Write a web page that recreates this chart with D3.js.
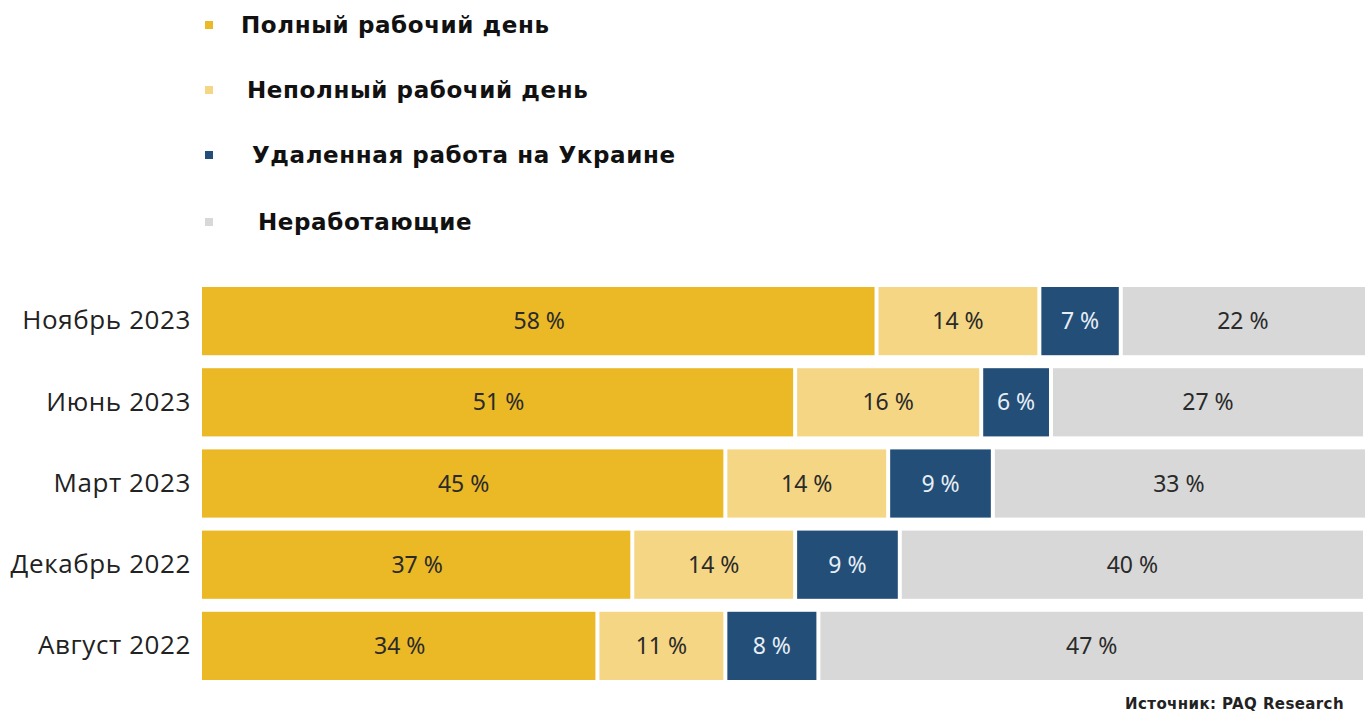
<!DOCTYPE html>
<html>
<head>
<meta charset="utf-8">
<script src="https://cdn.jsdelivr.net/npm/d3@7"></script>
<style>
  body { margin: 0; background: #fff; }
  svg { display: block; }
</style>
</head>
<body>
<svg width="1365" height="713"></svg>
<script>
// data
let periods = ["Ноябрь 2023", "Июнь 2023", "Март 2023", "Декабрь 2022", "Август 2022"];
let seriesNames = ["Полный рабочий день", "Неполный рабочий день", "Удаленная работа на Украине", "Неработающие"];
let fullTime = [58, 51, 45, 37, 34];
let partTime = [14, 16, 14, 14, 11];
let remote = [7, 6, 9, 9, 8];
let notWorking = [22, 27, 33, 40, 47];
let colors = ["#EBB826", "#F5D684", "#224E78", "#D8D8D8"];
let textColors = ["#2a2a2a", "#2a2a2a", "#e8eef5", "#2a2a2a"];
let source = "Источник: PAQ Research";

let margin = ({top: 287, right: 0, bottom: 33, left: 202});
let width = 1365, height = 713;

let table = periods.map((p, i) => ({
    period: p,
    values: [fullTime[i], partTime[i], remote[i], notWorking[i]]
}));

let x = d3.scaleLinear([0, 100], [margin.left, width - margin.right]);
let y = d3.scaleBand(periods, [margin.top, height - margin.bottom]).paddingInner(0.16).paddingOuter(0.0);

let svg = d3.select("svg").attr("viewBox", [0, 0, width, height]);

// stacked segments
let segs = table.flatMap(row => {
    let acc = 0;
    return row.values.map((v, k) => {
        let s = {period: row.period, k, v, x0: acc, x1: acc + v};
        acc += v;
        return s;
    });
});

const gap = 4;
svg.append("g")
    .selectAll("rect")
    .data(segs)
    .join("rect")
    .attr("x", d => x(d.x0) + (d.k > 0 ? gap / 2 : 0))
    .attr("y", d => y(d.period))
    .attr("width", d => x(d.x1) - x(d.x0) - (d.k > 0 ? gap : gap / 2))
    .attr("height", y.bandwidth())
    .attr("fill", d => colors[d.k]);

svg.append("g")
    .attr("font-family", "'Noto Sans', sans-serif")
    .attr("font-size", 23)
    .attr("text-anchor", "middle")
    .selectAll("text")
    .data(segs)
    .join("text")
    .attr("x", d => (x(d.x0) + Math.min(x(d.x1), width)) / 2)
    .attr("y", d => y(d.period) + y.bandwidth() / 2)
    .attr("dy", "0.35em")
    .attr("fill", d => textColors[d.k])
    .text(d => d.v + " %");

// category labels
svg.append("g")
    .attr("font-family", "'Open Sans', sans-serif")
    .attr("font-size", 26)
    .attr("letter-spacing", 0.6)
    .attr("text-anchor", "end")
    .attr("fill", "#222")
    .selectAll("text")
    .data(periods)
    .join("text")
    .attr("x", 191)
    .attr("y", d => y(d) + y.bandwidth() / 2)
    .attr("dy", "0.32em")
    .text(d => d);

// legend
let legendX = [241, 247, 252, 258];
let legendY = [25, 90, 155, 222];
let legend = svg.append("g")
    .selectAll("g")
    .data(seriesNames)
    .join("g")
    .attr("transform", (d, i) => `translate(0,${legendY[i]})`);

legend.append("rect")
    .attr("x", 205)
    .attr("y", -4)
    .attr("width", 8)
    .attr("height", 8)
    .attr("fill", (d, i) => colors[i]);

legend.append("text")
    .attr("x", (d, i) => legendX[i])
    .attr("dy", "0.36em")
    .attr("font-family", "'DejaVu Sans', sans-serif")
    .attr("font-weight", "bold")
    .attr("font-size", 23)
    .attr("letter-spacing", 0.6)
    .attr("fill", "#111")
    .text(d => d);

svg.append("text")
    .attr("x", 1344)
    .attr("y", 709)
    .attr("text-anchor", "end")
    .attr("font-family", "'DejaVu Sans', sans-serif")
    .attr("font-weight", "bold")
    .attr("font-size", 15)
    .attr("letter-spacing", 0.4)
    .attr("fill", "#222")
    .text(source);
</script>
</body>
</html>
